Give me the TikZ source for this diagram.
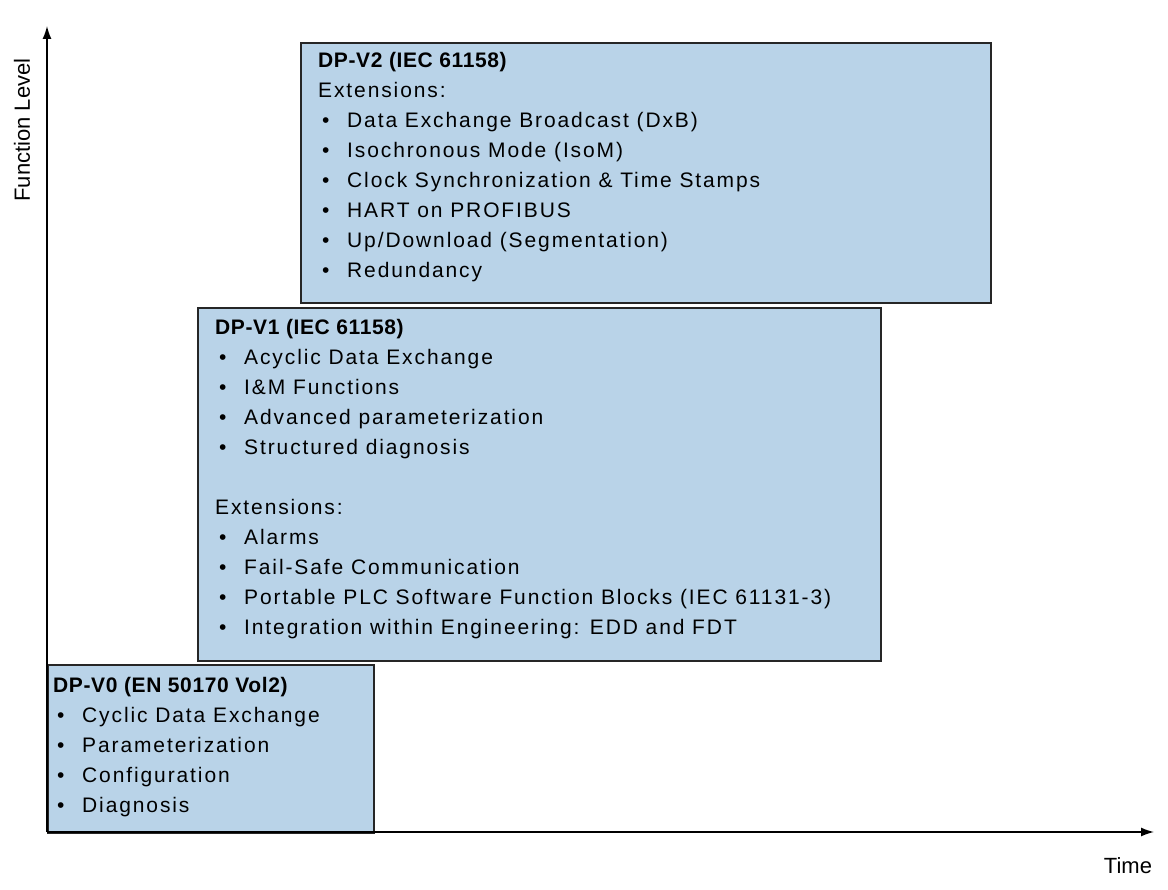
\documentclass[tikz,border=0pt]{standalone}
\usepackage{fontspec}
\setmainfont{Liberation Sans}[BoldFeatures={LetterSpace=3}]
\usetikzlibrary{arrows.meta}
\definecolor{boxblue}{HTML}{B9D3E8}
\tikzset{
  level/.style={draw=black!85, line width=1.6pt, fill=boxblue, anchor=north west, inner sep=0pt},
  content/.style={anchor=north west, inner sep=0pt, align=left, font=\fontsize{21}{30}\selectfont\addfontfeatures{LetterSpace=9}},
  axis/.style={line width=1.4pt, -{Latex[length=13pt,width=9pt]}}
}
\newcommand{\itm}[1]{\makebox[29pt][l]{\hspace{4pt}\textbullet}#1}
\newcommand{\ttl}[1]{{\fontspec{Liberation Sans}[LetterSpace=3]\bfseries #1}}
\begin{document}
\begin{tikzpicture}[x=1pt,y=-1pt]
  \useasboundingbox (0,0) rectangle (1168,890);

  \node[level, minimum width=690pt, minimum height=260pt] (v2) at (300,42) {};
  \node[level, minimum width=683pt, minimum height=353pt] (v1) at (197,307) {};
  \node[level, minimum width=326pt, minimum height=168pt] (v0) at (47,664) {};

  \node[content] (t2) at (318,52) {\ttl{DP-V2 (IEC 61158)}\\ Extensions:\\
    \itm{Data Exchange Broadcast (DxB)}\\ \itm{Isochronous Mode (IsoM)}\\
    \itm{Clock Synchronization \& Time Stamps}\\ \itm{HART on PROFIBUS}\\
    \itm{Up/Download (Segmentation)}\\ \itm{Redundancy}};
  \node[content] (t1) at (215,319) {\ttl{DP-V1 (IEC 61158)}\\
    \itm{Acyclic Data Exchange}\\ \itm{I\&M Functions}\\
    \itm{Advanced parameterization}\\ \itm{Structured diagnosis}\\[30pt]
    Extensions:\\ \itm{Alarms}\\ \itm{Fail-Safe Communication}\\
    \itm{Portable PLC Software Function Blocks (IEC 61131-3)}\\
    \itm{Integration within Engineering: EDD and FDT}};
  \node[content] (t0) at (53,677) {\ttl{DP-V0 (EN 50170 Vol2)}\\
    \itm{Cyclic Data Exchange}\\ \itm{Parameterization}\\
    \itm{Configuration}\\ \itm{Diagnosis}};

  % axes
  \coordinate (origin) at (47,832);
  \coordinate (ytop) at (47,26);
  \coordinate (xend) at (1154,832);
  \draw[axis] (origin) -- (ytop);
  \draw[axis] (origin) -- (xend);
  \node[rotate=90, font=\fontsize{22}{24}\selectfont] (ylab) at (22,130) {Function Level};
  \node[font=\fontsize{22}{24}\selectfont] (xlab) at (1128,866) {Time};
\end{tikzpicture}
\end{document}
